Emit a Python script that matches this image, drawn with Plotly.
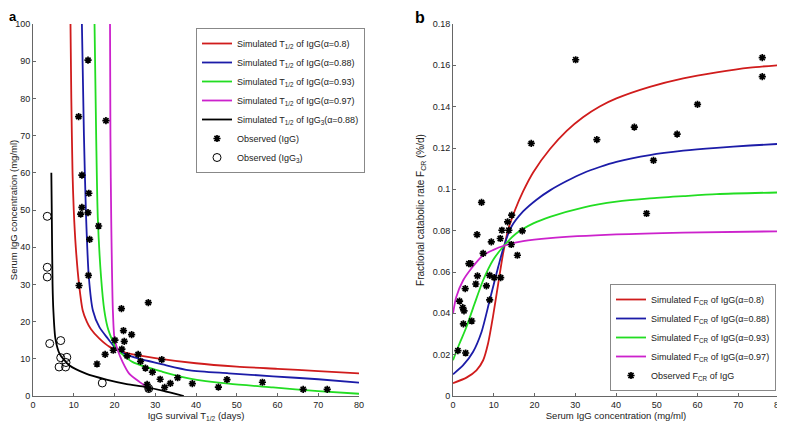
import plotly.graph_objects as go

# ---------------- Panel a data ----------------
a_red_x = [9.2, 9.4, 9.7, 10.0, 10.5, 11.3, 12.2, 13.2, 14.2, 16.3, 18.8, 20.8, 24.5, 30, 40, 50, 60, 70, 80]
a_red_y = [100, 80, 60, 50, 40, 30, 23, 20, 18, 15.4, 13.2, 12.3, 11.2, 10.2, 8.8, 7.9, 7.3, 6.7, 6.1]
a_blue_x = [12.0, 12.5, 13.0, 13.7, 14.7, 16.3, 18.4, 20.0, 20.8, 24.5, 31.8, 38.5, 48, 58.9, 70, 80]
a_blue_y = [100, 70, 49, 32, 23, 18.5, 15.4, 13.2, 12.3, 10.5, 8.5, 6.9, 6.1, 5.3, 4.5, 3.6]
a_green_x = [15.1, 15.5, 15.9, 16.7, 17.5, 18.3, 19.3, 20.2, 20.8, 24.5, 31.8, 38.5, 48, 58.9, 70, 80]
a_green_y = [100, 70, 48, 32, 23, 18.5, 15.4, 13.2, 12.3, 9.1, 6.5, 4.7, 3.3, 2.3, 1.3, 0.6]
a_mag_x = [18.9, 19.0, 19.2, 19.6, 20.0, 20.8, 22.0, 23.6, 26.1, 28.6]
a_mag_y = [100, 70, 47, 23, 15.4, 12.3, 9.1, 6.0, 3.8, 2.0]
a_blk_x = [4.5, 4.6, 4.8, 5.0, 5.5, 6.5, 8.9, 13.0, 18.0, 23.0, 27.7, 32.0, 37.0]
a_blk_y = [60, 50, 30, 23, 15.4, 11.4, 8.25, 6.0, 4.4, 3.2, 2.4, 1.4, 0]

obs_igg_x = [13.5, 11.2, 17.9, 12.0, 13.7, 12.0, 11.7, 13.5, 16.1, 13.9, 13.6, 11.3, 28.3, 21.7,
             22.2, 24.2, 20.1, 22.4, 21.8, 19.7, 25.8, 17.7, 23.1, 31.6, 26.4, 15.7, 27.6, 29.3,
             35.5, 31.2, 47.6, 56.3, 33.7, 39.1, 28.0, 32.3, 45.5, 66.3, 72.2, 28.4]
obs_igg_y = [90.3, 75.1, 74.0, 59.4, 54.5, 50.7, 48.9, 49.3, 45.7, 42.1, 32.4, 29.7, 25.1, 23.5,
             17.6, 16.5, 15.0, 14.7, 12.6, 12.3, 11.2, 11.2, 10.8, 9.8, 9.3, 8.6, 7.5, 6.4,
             4.9, 4.5, 4.4, 3.7, 3.4, 3.3, 3.1, 2.3, 2.4, 1.8, 1.8, 1.9]
obs_igg3_x = [3.5, 3.5, 3.5, 4.1, 6.8, 6.8, 8.3, 8.1, 6.4, 8.0, 17.0, 28.4]
obs_igg3_y = [48.3, 34.6, 32.0, 14.1, 14.9, 10.3, 10.4, 9.0, 7.8, 7.8, 3.5, 2.0]

# ---------------- Panel b data ----------------
b_red_x = [0, 3.3, 5.75, 7.4, 8.6, 9.8, 11.1, 12.3, 13.5, 15.2, 17.2, 19.7, 23.8, 27.9, 31.9, 36.0, 40.1, 48.3, 56.5, 64.7, 72.9, 80]
b_red_y = [0.0062, 0.0089, 0.0124, 0.0173, 0.0254, 0.0383, 0.0544, 0.0690, 0.0802, 0.0899, 0.0990, 0.1083, 0.1195, 0.1283, 0.1349, 0.1401, 0.1440, 0.1496, 0.1537, 0.1566, 0.1589, 0.1601]
b_blue_x = [0, 2.5, 4.9, 7.0, 9.0, 11.1, 12.5, 14.3, 17.2, 20.5, 23.8, 27.9, 31.9, 36.0, 40.1, 48.3, 56.5, 64.7, 72.9, 80]
b_blue_y = [0.0105, 0.0149, 0.0213, 0.0310, 0.0463, 0.0625, 0.0725, 0.0818, 0.0893, 0.0950, 0.0995, 0.1040, 0.1078, 0.1108, 0.1133, 0.1166, 0.1187, 0.1201, 0.1212, 0.1220]
b_green_x = [0, 1.6, 3.3, 5.3, 7.4, 9.8, 12.5, 15.5, 19.7, 23.8, 31.9, 40.1, 48.3, 56.5, 64.7, 80]
b_green_y = [0.0173, 0.0254, 0.0334, 0.0447, 0.0560, 0.0657, 0.0727, 0.0786, 0.0835, 0.0867, 0.0912, 0.0940, 0.0956, 0.0967, 0.0977, 0.0985]
b_mag_x = [0, 0.8, 2.5, 4.5, 7.4, 9.8, 12.5, 17.2, 23.8, 40.1, 56.5, 80]
b_mag_y = [0.0399, 0.0479, 0.0560, 0.0617, 0.0681, 0.0706, 0.0727, 0.0749, 0.0764, 0.0782, 0.0791, 0.0797]

obs_fcr_x = [30.1, 75.9, 75.9, 60.0, 44.5, 35.3, 55.0, 19.2, 49.2, 47.5,
             7.0, 14.4, 13.4, 12.0, 13.7, 17.0, 5.9, 11.6, 9.4, 14.3, 7.4, 15.8, 3.9, 4.3,
             6.0, 9.0, 10.1, 11.7, 5.6, 8.2, 3.0, 1.6, 2.4, 2.7, 9.0, 2.55, 4.6, 1.2, 3.1]
obs_fcr_y = [0.1627, 0.1637, 0.1545, 0.1411, 0.1301, 0.1241, 0.1267, 0.1222, 0.1140, 0.0883,
             0.0937, 0.0875, 0.0843, 0.0802, 0.0802, 0.0799, 0.0781, 0.0762, 0.0746, 0.0733, 0.0690, 0.0681, 0.0641, 0.0641,
             0.0581, 0.0584, 0.0573, 0.0573, 0.0542, 0.0533, 0.0520, 0.0459, 0.0428, 0.0412, 0.0465, 0.0349, 0.0363, 0.0220, 0.0208]

b_yticks = [0, 0.02, 0.04, 0.06, 0.08, 0.1, 0.12, 0.14, 0.16, 0.18]
b_yticktext = ["0", "0.02", "0.04", "0.06", "0.08", "0.1", "0.12", "0.14", "0.16", "0.18"]

RED, BLUE, GREEN, MAG, BLK = "#d01c1c", "#1c1ca8", "#22dd22", "#cc22cc", "#000000"
FONT = "Liberation Sans, Arial, sans-serif"

# the page body adds an 8px margin; figure is sized to fit the window
W, H, OFF = 777, 419, 8
def PX(x):
    return (x - OFF) / W
def PY(y):
    return 1 - (y - OFF) / H

fig = go.Figure()
LW = 1.8

def line(x, y, color, name, xa, ya, leg):
    fig.add_trace(go.Scatter(x=x, y=y, mode="lines", name=name,
                             line=dict(color=color, width=LW, shape="spline", smoothing=0.7),
                             xaxis=xa, yaxis=ya, legend=leg))

star = dict(symbol="asterisk-open", size=6, color="black", line=dict(color="black", width=1.7))

line(a_red_x, a_red_y, RED, "Simulated T<sub>1/2</sub> of IgG(α=0.8)", "x", "y", "legend")
line(a_blue_x, a_blue_y, BLUE, "Simulated T<sub>1/2</sub> of IgG(α=0.88)", "x", "y", "legend")
line(a_green_x, a_green_y, GREEN, "Simulated T<sub>1/2</sub> of IgG(α=0.93)", "x", "y", "legend")
line(a_mag_x, a_mag_y, MAG, "Simulated T<sub>1/2</sub> of IgG(α=0.97)", "x", "y", "legend")
line(a_blk_x, a_blk_y, BLK, "Simulated T<sub>1/2</sub> of IgG<sub>3</sub>(α=0.88)", "x", "y", "legend")
fig.add_trace(go.Scatter(x=obs_igg_x, y=obs_igg_y, mode="markers", name="Observed (IgG)",
                         marker=star, xaxis="x", yaxis="y", legend="legend"))
fig.add_trace(go.Scatter(x=obs_igg3_x, y=obs_igg3_y, mode="markers", name="Observed (IgG<sub>3</sub>)",
                         marker=dict(symbol="circle-open", size=8, color="black", line=dict(color="black", width=1)),
                         xaxis="x", yaxis="y", legend="legend"))

line(b_red_x, b_red_y, RED, "Simulated F<sub>CR</sub> of IgG(α=0.8)", "x2", "y2", "legend2")
line(b_blue_x, b_blue_y, BLUE, "Simulated F<sub>CR</sub> of IgG(α=0.88)", "x2", "y2", "legend2")
line(b_green_x, b_green_y, GREEN, "Simulated F<sub>CR</sub> of IgG(α=0.93)", "x2", "y2", "legend2")
line(b_mag_x, b_mag_y, MAG, "Simulated F<sub>CR</sub> of IgG(α=0.97)", "x2", "y2", "legend2")
fig.add_trace(go.Scatter(x=obs_fcr_x, y=obs_fcr_y, mode="markers", name="Observed F<sub>CR</sub> of IgG",
                         marker=star, xaxis="x2", yaxis="y2", legend="legend2"))

axcommon = dict(showgrid=False, zeroline=False, showline=True, linecolor="#666", linewidth=1,
                ticks="inside", ticklen=3, tickcolor="#666", mirror=False,
                tickfont=dict(family=FONT, size=9, color="#222"), automargin=False)
ydom = [PY(396), PY(24)]

fig.update_layout(
    width=W, height=H,
    margin=dict(l=0, r=0, t=0, b=0),
    paper_bgcolor="white", plot_bgcolor="white",
    font=dict(family=FONT, size=9, color="#222"),
    xaxis=dict(domain=[PX(33), PX(359)], range=[0, 80], dtick=10, anchor="y",
               title=dict(text="IgG survival T<sub>1/2</sub> (days)", font=dict(size=9.5), standoff=3), **axcommon),
    yaxis=dict(domain=ydom, range=[0, 100], dtick=10, anchor="x",
               title=dict(text="Serum IgG concentration (mg/ml)", font=dict(size=9.5), standoff=5), **axcommon),
    xaxis2=dict(domain=[PX(453), PX(779)], range=[0, 80], dtick=10, anchor="y2",
                title=dict(text="Serum IgG concentration (mg/ml)", font=dict(size=9.5), standoff=3), **axcommon),
    yaxis2=dict(domain=ydom, range=[0, 0.18], tickvals=b_yticks, ticktext=b_yticktext, anchor="x2",
                title=dict(text="Fractional catabolic rate F<sub>CR</sub> (%/d)", font=dict(size=10), standoff=6), **axcommon),
    legend=dict(x=PX(196), y=PY(28), xanchor="left", yanchor="top",
                bordercolor="#888", borderwidth=1, bgcolor="white",
                font=dict(family=FONT, size=9, color="#222"), tracegroupgap=0, itemwidth=30),
    legend2=dict(x=PX(776), y=PY(391), xanchor="right", yanchor="bottom",
                 bordercolor="#888", borderwidth=1, bgcolor="white",
                 font=dict(family=FONT, size=9, color="#222"), tracegroupgap=0, itemwidth=30),
    showlegend=True,
    annotations=[
        dict(text="<b>a</b>", x=0.0, y=1.0, xref="paper", yref="paper", showarrow=False,
             xanchor="left", yanchor="top", borderpad=0,
             font=dict(family=FONT, size=13, color="black")),
        dict(text="<b>b</b>", x=PX(414), y=1.0, xref="paper", yref="paper", showarrow=False,
             xanchor="left", yanchor="top", borderpad=0,
             font=dict(family=FONT, size=16, color="black")),
    ],
)

fig.write_html("out.html")
